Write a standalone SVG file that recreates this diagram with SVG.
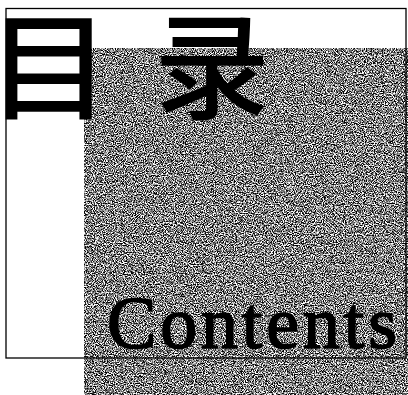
<svg xmlns="http://www.w3.org/2000/svg" width="408" height="395" viewBox="0 0 408 395">
  <style>
    .cjk { font-family: "Noto Sans CJK SC", "Noto Sans CJK JP", sans-serif; font-weight: 500; font-size: 116px; fill: #000; }
    .en { font-family: "Liberation Serif", "DejaVu Serif", serif; font-weight: 400; font-size: 74px; fill: #000; stroke: #000; stroke-width: 1.6; }
    .frame { fill: none; stroke: #000; stroke-width: 1.3; }
  </style>
  <defs>
    <filter id="grain" x="0" y="0" width="100%" height="100%" filterUnits="objectBoundingBox" color-interpolation-filters="sRGB">
      <feTurbulence type="fractalNoise" baseFrequency="0.9" numOctaves="2" seed="7" result="n"/>
      <feColorMatrix in="n" type="matrix" values="1 0 0 0 0  1 0 0 0 0  1 0 0 0 0  0 0 0 0 1" result="g"/>
      <feComponentTransfer in="g">
        <feFuncR type="linear" slope="3.4" intercept="-1.2"/>
        <feFuncG type="linear" slope="3.4" intercept="-1.2"/>
        <feFuncB type="linear" slope="3.4" intercept="-1.2"/>
      </feComponentTransfer>
    </filter>
  </defs>
  <rect width="408" height="395" fill="#fff"/>
  <g id="background">
    <rect x="84" y="48" width="324" height="347" fill="#878787"/>
    <rect x="84" y="48" width="324" height="347" filter="url(#grain)"/>
  </g>
  <g id="frame">
    <rect class="frame" x="6" y="8.5" width="400" height="349.5"/>
  </g>
  <g id="title-cn">
    <text class="cjk" transform="translate(49 110) scale(1.07 1)" text-anchor="middle">目</text>
    <text class="cjk" x="212" y="110" text-anchor="middle">录</text>
  </g>
  <g id="title-en">
    <text class="en" x="107" y="348" textLength="290" lengthAdjust="spacing">Contents</text>
  </g>
</svg>
